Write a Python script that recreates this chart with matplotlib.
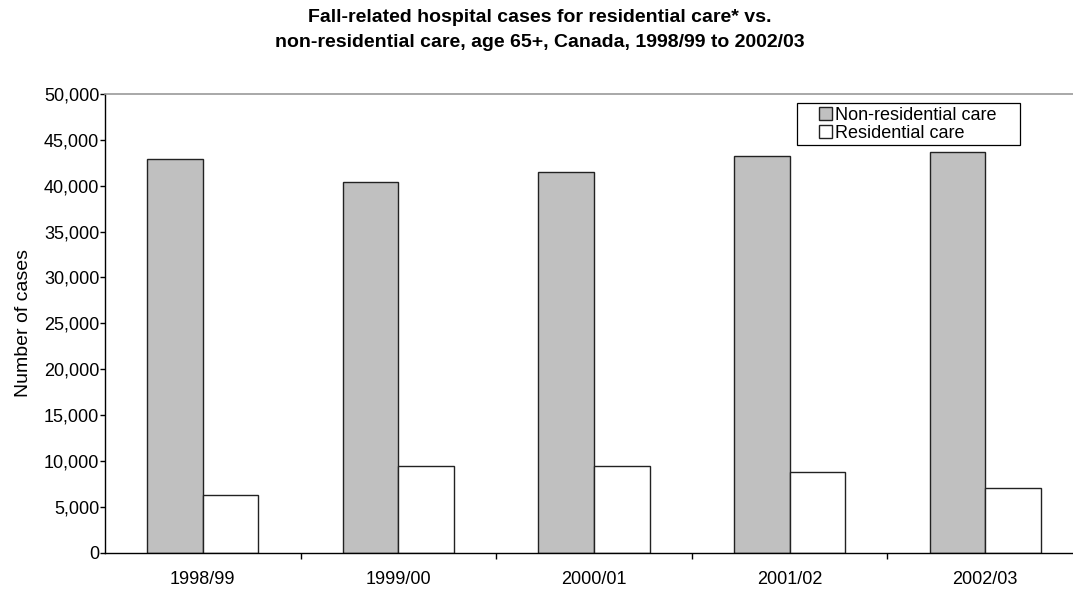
import numpy as np
import matplotlib.pyplot as plt
from matplotlib.patches import Rectangle
from matplotlib.ticker import FuncFormatter, FixedLocator

plt.rcParams['font.family'] = ['Liberation Sans', 'DejaVu Sans']

# Hospital cases due to falls, age 65+
years = ['1998/99', '1999/00', '2000/01', '2001/02', '2002/03']
non_residential = [42900, 40400, 41500, 43200, 43700]
residential = [6300, 9450, 9450, 8850, 7050]

W, H = 1073, 589
fig = plt.figure(figsize=(W / 100, H / 100), dpi=100)
ax = fig.add_axes([105 / W, 1 - 552.7 / H, 978 / W, (552.7 - 94) / H])

x = np.arange(len(years))
larg = 0.284
ax.bar(x - larg / 2, non_residential, width=larg, color='#c0c0c0',
       edgecolor='#222222', linewidth=1.0, label='Non-residential care')
ax.bar(x + larg / 2, residential, width=larg, color='white',
       edgecolor='#222222', linewidth=1.0, label='Residential care')

ax.set_xlim(-0.5, len(years) - 0.5)
ax.set_ylim(0, 50000)
ax.set_yticks(np.arange(0, 50001, 5000))
ax.yaxis.set_major_formatter(FuncFormatter(lambda v, p: f'{int(v):,}'))

# ticks between categories, labels at the centres
ax.xaxis.set_major_locator(FixedLocator(x[:-1] + 0.5))
ax.xaxis.set_minor_locator(FixedLocator(x))
ax.set_xticklabels([], minor=False)
ax.set_xticklabels(years, minor=True)
ax.tick_params(axis='x', which='major', length=4, width=1, direction='out')
ax.tick_params(axis='x', which='minor', length=0, pad=13, labelsize=13)
ax.tick_params(axis='y', length=3.6, width=1, labelsize=13, pad=0.5)

ax.spines['top'].set_color('#999999')
ax.spines['top'].set_linewidth(1.2)
ax.spines['right'].set_visible(False)
ax.spines['left'].set_linewidth(1.0)
ax.spines['bottom'].set_linewidth(1.0)

ax.set_ylabel('Number of cases', fontsize=14)
ax.yaxis.set_label_coords(-0.075, 0.5)

# legend without its own frame, box drawn separately
leg = ax.legend(loc='upper left', bbox_to_anchor=(819 / W, 1 - 107 / H),
                bbox_transform=fig.transFigure, fontsize=13, frameon=False,
                borderpad=0, handlelength=0.72, handleheight=0.72,
                handletextpad=0.15, labelspacing=0.05, borderaxespad=0)
fig.patches.append(Rectangle((797 / W, 1 - 145 / H), 223 / W, 42 / H,
                             transform=fig.transFigure, fill=False,
                             edgecolor='black', linewidth=0.9))

fig.text(0.503, 1 - 9 / H, 'Fall-related hospital cases for residential care* vs.\n'
         'non-residential care, age 65+, Canada, 1998/99 to 2002/03',
         ha='center', va='top', fontsize=14, fontweight='bold', linespacing=1.6)

fig.savefig('out.png', dpi=100)
